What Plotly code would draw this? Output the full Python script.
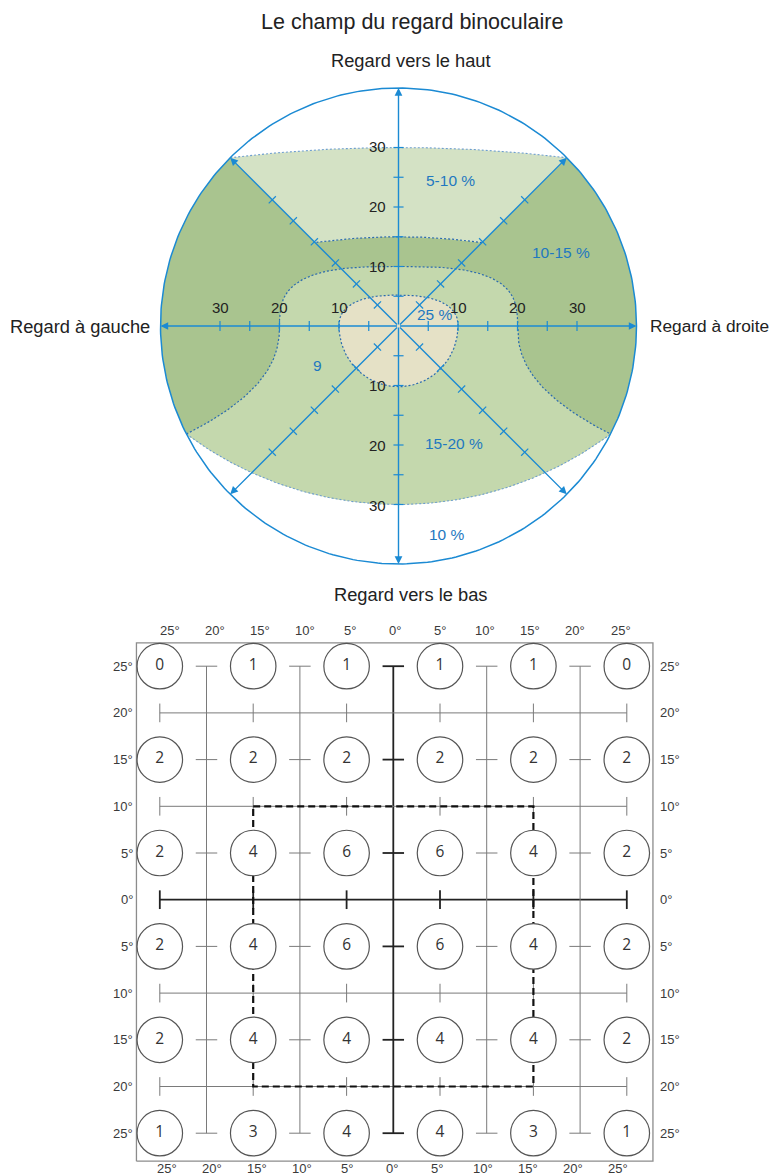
import numpy as np
import plotly.graph_objects as go

W, H = 779, 1176
PAGE_OFFSET = 8  # default body margin of the page

# ---------------- top chart: binocular field of gaze (values in degrees) ----------------
TITLE = "Le champ du regard binoculaire"
DIRECTION_LABELS = ["Regard vers le haut", "Regard à gauche", "Regard à droite", "Regard vers le bas"]
FIELD_RADIUS = 40
AXIS_DIRECTIONS = [0, 45, 90, 135, 180, 225, 270, 315]
AXIS_TICKS = [5, 10, 15, 20, 25, 30]
AXIS_NUMBERS = [10, 20, 30]
TOP_ARC_PEAK = 30
MID_ARC_PEAK = 15
MID_ARC_BEND = 0.005
INNER_HALF_WIDTH = 20
INNER_TOP = 10
BOTTOM_ARC_PEAK = -30
BOTTOM_ARC_END_ANGLE = 207
CENTER_HALF_WIDTH = 10
CENTER_TOP = 5.2
CENTER_BOTTOM = -10.2
ZONE_LABELS = ["5-10 %", "10-15 %", "25 %", "9", "15-20 %", "10 %"]

# ---------------- bottom chart: grid of gaze percentages ----------------
GRID_LABELS = [-25, -20, -15, -10, -5, 0, 5, 10, 15, 20, 25]
CIRCLE_COLS = [-25, -15, -5, 5, 15, 25]
CIRCLE_ROWS = [25, 15, 5, -5, -15, -25]
CIRCLE_VALUES = [
    [0, 1, 1, 1, 1, 0],
    [2, 2, 2, 2, 2, 2],
    [2, 4, 6, 6, 4, 2],
    [2, 4, 6, 6, 4, 2],
    [2, 4, 4, 4, 4, 2],
    [1, 3, 4, 4, 3, 1],
]
LINE_POSITIONS = [-20, -10, 0, 10, 20]
TICK_POSITIONS = [-25, -15, -5, 5, 15, 25]
DASHED_BOX_X = [-15, 15]
DASHED_BOX_Y = [-20, 10]

# ---------------- styling / layout ----------------
BLUE = "#1b8ad3"
DOT_BLUE = "#2a6ab0"
DOT_LIGHT = "#6f9fd0"
DARK_GREEN = "#a9c48f"
LIGHT_GREEN = "#d4e2c5"
MID_GREEN = "#c4d8ad"
BEIGE = "#e5e1c6"
FONT = "Liberation Sans, Arial, sans-serif"

FW, FH = W - PAGE_OFFSET, H - PAGE_OFFSET
s1 = 5.95
cx1, cy1, top_h = 398.5 - PAGE_OFFSET, 326.0 - PAGE_OFFSET, 600.0 - PAGE_OFFSET
s2 = 9.34
cx2, cy2 = 393.3 - PAGE_OFFSET, 899.7 - PAGE_OFFSET
split = 1 - top_h / FH
x1_range = [-cx1 / s1, (FW - cx1) / s1]
y1_range = [-(top_h - cy1) / s1, cy1 / s1]
x2_range = [-cx2 / s2, (FW - cx2) / s2]
y2_range = [-(FH - cy2) / s2, (cy2 - top_h) / s2]

fig = go.Figure()


def add_poly(x, y, color):
    fig.add_trace(go.Scatter(x=list(x), y=list(y), mode="lines", fill="toself",
                             fillcolor=color, line=dict(width=0), hoverinfo="skip",
                             xaxis="x", yaxis="y"))


def add_line(x, y, color, width, dash=None, xa="x", ya="y"):
    fig.add_trace(go.Scatter(x=list(x), y=list(y), mode="lines",
                             line=dict(color=color, width=width, dash=dash),
                             hoverinfo="skip", xaxis=xa, yaxis=ya))


def segments(segs):
    xs, ys = [], []
    for x0, y0, x1, y1 in segs:
        xs += [x0, x1, None]
        ys += [y0, y1, None]
    return xs, ys


R = FIELD_RADIUS


def arc(a0, a1, n=150):
    t = np.radians(np.linspace(a0, a1, n))
    return R * np.cos(t), R * np.sin(t)


d = R * np.cos(np.radians(45))
k_top = (TOP_ARC_PEAK - d) / d ** 2


def top_arc(x):
    return TOP_ARC_PEAK - k_top * x ** 2


def mid_arc(x):
    return MID_ARC_PEAK - MID_ARC_BEND * x ** 2


xm = (-1 + np.sqrt(1 + 4 * MID_ARC_BEND * MID_ARC_PEAK)) / (2 * MID_ARC_BEND)
xe = abs(R * np.cos(np.radians(BOTTOM_ARC_END_ANGLE)))
ye = R * np.sin(np.radians(BOTTOM_ARC_END_ANGLE))
P = BOTTOM_ARC_PEAK
cb = (P ** 2 - xe ** 2 - ye ** 2) / (2 * (P - ye))
Rb = cb - P


def bottom_arc(x):
    return cb - np.sqrt(Rb ** 2 - x ** 2)


def side_x(y):
    return INNER_HALF_WIDTH + (xe - INNER_HALF_WIDTH) * (np.abs(y) / abs(ye)) ** 2.3


# dark green zone
a1x, a1y = arc(135, BOTTOM_ARC_END_ANGLE)
bx = np.linspace(-xe, xe, 150)
a2x, a2y = arc(360 - (BOTTOM_ARC_END_ANGLE - 180), 405)
mx = np.linspace(xm, -xm, 80)
dx = np.concatenate([a1x, bx, a2x, [xm], mx, [-d]])
dy = np.concatenate([a1y, bottom_arc(bx), a2y, [xm], mid_arc(mx), [d]])
add_poly(dx, dy, DARK_GREEN)

# light upper zone
tx = np.linspace(-d, d, 120)
add_poly(np.concatenate([tx, [xm], mx]), np.concatenate([top_arc(tx), [xm], mid_arc(mx)]), LIGHT_GREEN)

# medium zone
t = np.linspace(np.pi, 0, 160)
sx = INNER_HALF_WIDTH * np.sign(np.cos(t)) * np.abs(np.cos(t)) ** (2 / 3)
sy = INNER_TOP * np.abs(np.sin(t)) ** (2 / 3)
yy = np.linspace(0, ye, 60)
bx_back = np.linspace(xe, -xe, 150)
Mx = np.concatenate([sx, side_x(yy), bx_back, -side_x(yy[::-1])])
My = np.concatenate([sy, yy, bottom_arc(bx_back), yy[::-1]])
add_poly(Mx, My, MID_GREEN)

# central zone
tu = np.linspace(np.pi, 0, 100)
cxu = CENTER_HALF_WIDTH * np.sign(np.cos(tu)) * np.abs(np.cos(tu)) ** (2 / 2.4)
cyu = CENTER_TOP * np.abs(np.sin(tu)) ** (2 / 2.4)
tl = np.linspace(0, -np.pi, 100)
cxl = CENTER_HALF_WIDTH * np.cos(tl)
cyl = -CENTER_BOTTOM * np.sin(tl)
Cx = np.concatenate([cxu, cxl])
Cy = np.concatenate([cyu, cyl])
add_poly(Cx, Cy, BEIGE)

# dotted boundaries
add_line(tx, top_arc(tx), DOT_LIGHT, 1.1, "2px,2px")
add_line(mx, mid_arc(mx), DOT_BLUE, 1.2, "2px,2px")
add_line(np.concatenate([-side_x(yy[::-1]), sx, side_x(yy)]),
         np.concatenate([yy[::-1], sy, yy]), DOT_BLUE, 1.2, "2px,2px")
add_line(bx, bottom_arc(bx), DOT_LIGHT, 1.1, "2px,2px")
add_line(Cx, Cy, DOT_BLUE, 1.2, "2px,2px")

# outer circle
ox, oy = arc(0, 360, 361)
add_line(ox, oy, BLUE, 1.5)

# ticks on the axes
h = 0.85
tick_segs = []
for ang in AXIS_DIRECTIONS:
    ux, uy = np.cos(np.radians(ang)), np.sin(np.radians(ang))
    px, py = -uy, ux
    for tv in AXIS_TICKS:
        tick_segs.append((tv * ux - h * px, tv * uy - h * py, tv * ux + h * px, tv * uy + h * py))
tkx, tky = segments(tick_segs)
add_line(tkx, tky, BLUE, 1.2)

# axis arrows
for ang in AXIS_DIRECTIONS:
    ux, uy = np.cos(np.radians(ang)), np.sin(np.radians(ang))
    fig.add_annotation(x=R * ux, y=R * uy, ax=0, ay=0, xref="x", yref="y", axref="x", ayref="y",
                       text="", showarrow=True, arrowhead=2, arrowsize=1.1, arrowwidth=1.4,
                       arrowcolor=BLUE, standoff=0, startstandoff=0)

# axis numbers
for v in AXIS_NUMBERS:
    for sgn in (-1, 1):
        fig.add_annotation(x=sgn * v, y=3.1, xref="x", yref="y", text=str(v), showarrow=False,
                           font=dict(family=FONT, size=15, color="#222"))
        fig.add_annotation(x=-1.7, y=sgn * v * 1.008, xref="x", yref="y", text=str(v), showarrow=False,
                           xanchor="right", font=dict(family=FONT, size=15, color="#222"))

# zone labels
zone_pos = [(8.66, 24.5), (27.3, 12.3), (6.2, 1.85), (-13.6, -6.7), (9.3, -19.7), (8.2, -35.1)]
for lab, (zx, zy) in zip(ZONE_LABELS, zone_pos):
    fig.add_annotation(x=zx, y=zy, xref="x", yref="y", text=lab, showarrow=False,
                       font=dict(family=FONT, size=15.5, color="#1f78c0"))

# titles / direction labels
fig.add_annotation(x=(412 - PAGE_OFFSET) / FW, y=1 - (22 - PAGE_OFFSET) / FH, xref="paper", yref="paper",
                   xanchor="center", yanchor="middle", text=TITLE, showarrow=False,
                   font=dict(family=FONT, size=21.5, color="#222"))
dir_font = dict(family=FONT, size=18.3, color="#222")
fig.add_annotation(x=2.1, y=44.7, xref="x", yref="y", text=DIRECTION_LABELS[0], showarrow=False,
                   xanchor="center", yanchor="middle", font=dir_font)
fig.add_annotation(x=-41.4, y=0, xref="x", yref="y", text=DIRECTION_LABELS[1], showarrow=False,
                   xanchor="right", yanchor="middle", font=dir_font)
fig.add_annotation(x=42.0, y=0, xref="x", yref="y", text=DIRECTION_LABELS[2], showarrow=False,
                   xanchor="left", yanchor="middle", font=dict(family=FONT, size=17.3, color="#222"))
fig.add_annotation(x=2.1, y=-45.2, xref="x", yref="y", text=DIRECTION_LABELS[3], showarrow=False,
                   xanchor="center", yanchor="middle", font=dir_font)

# ---------------- bottom grid ----------------
GRAY = "#7a7a7a"
DARK = "#222222"
fx0, fx1, fy0, fy1 = -27.5, 27.8, -28.0, 27.5
add_line([fx0, fx1, fx1, fx0, fx0], [fy0, fy0, fy1, fy1, fy0], "#8c8c8c", 1.3, xa="x2", ya="y2")

lo, hi = min(TICK_POSITIONS), max(TICK_POSITIONS)
hv, hh = 1.0, 1.15
for pos in LINE_POSITIONS:
    col = DARK if pos == 0 else GRAY
    wid = 1.8 if pos == 0 else 1.0
    segs = [(lo, pos, hi, pos)] + [(tp, pos - hv, tp, pos + hv) for tp in TICK_POSITIONS]
    sx_, sy_ = segments(segs)
    add_line(sx_, sy_, col, wid, xa="x2", ya="y2")
    segs = [(pos, lo, pos, hi)] + [(pos - hh, tp, pos + hh, tp) for tp in TICK_POSITIONS]
    sx_, sy_ = segments(segs)
    add_line(sx_, sy_, col, wid, xa="x2", ya="y2")

bx0, bx1 = DASHED_BOX_X
by0, by1 = DASHED_BOX_Y
add_line([bx0, bx1, bx1, bx0, bx0], [by1, by1, by0, by0, by1], "#111", 2.2, "7px,4px", xa="x2", ya="y2")

cxs, cys, ctx = [], [], []
for r, row in zip(CIRCLE_ROWS, CIRCLE_VALUES):
    for c, val in zip(CIRCLE_COLS, row):
        cxs.append(c)
        cys.append(r)
        ctx.append(str(val))
fig.add_trace(go.Scatter(x=cxs, y=cys, text=ctx, mode="markers+text", textposition="middle center",
                         marker=dict(size=45.5, color="white", line=dict(color="#555", width=1.2)),
                         textfont=dict(family="Open Sans, Noto Sans, sans-serif", size=15.5, color="#333"),
                         hoverinfo="skip", xaxis="x2", yaxis="y2", cliponaxis=False))

lab_font = dict(family=FONT, size=13, color="#3a3a3a")
for v in GRID_LABELS:
    lx = 0.965 * v + 0.2
    fig.add_annotation(x=lx, y=28.77, xref="x2", yref="y2", text=f"{abs(v)}°", showarrow=False,
                       yanchor="middle", font=lab_font)
    fig.add_annotation(x=lx - 0.3, y=-28.75, xref="x2", yref="y2", text=f"{abs(v)}°", showarrow=False,
                       yanchor="middle", font=lab_font)
    fig.add_annotation(x=-27.7, y=v, xref="x2", yref="y2", text=f"{abs(v)}°", showarrow=False,
                       xanchor="right", yanchor="middle", font=lab_font)
    fig.add_annotation(x=28.37, y=v, xref="x2", yref="y2", text=f"{abs(v)}°", showarrow=False,
                       xanchor="left", yanchor="middle", font=lab_font)

fig.update_layout(
    width=FW, height=FH, margin=dict(l=0, r=0, t=0, b=0), showlegend=False,
    paper_bgcolor="white", plot_bgcolor="white",
    xaxis=dict(domain=[0, 1], range=x1_range, visible=False, fixedrange=True),
    yaxis=dict(domain=[split, 1], range=y1_range, visible=False, fixedrange=True),
    xaxis2=dict(domain=[0, 1], range=x2_range, visible=False, anchor="y2", fixedrange=True),
    yaxis2=dict(domain=[0, split], range=y2_range, visible=False, anchor="x2", fixedrange=True),
)

fig.write_html("out.html")
